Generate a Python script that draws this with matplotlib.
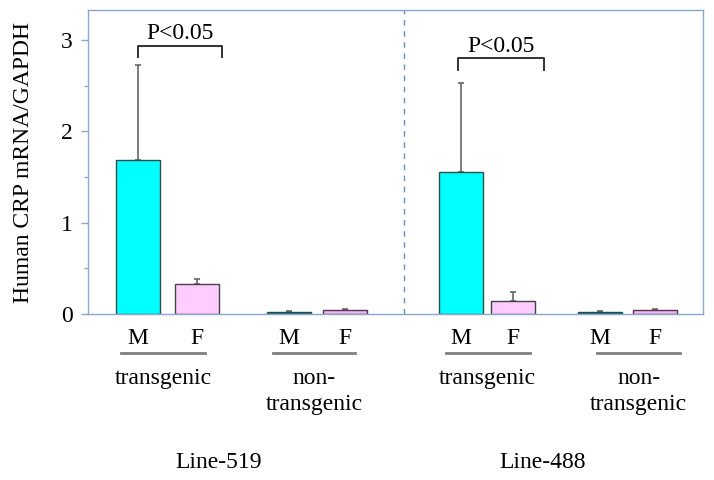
import matplotlib.pyplot as plt
import numpy as np

plt.rcParams['font.family'] = ['Liberation Serif', 'DejaVu Serif']

# bar values
groups = ["Line-519", "Line-488"]
sexes = ["M", "F", "M", "F", "M", "F", "M", "F"]
status = ["transgenic", "non-\ntransgenic", "transgenic", "non-\ntransgenic"]
means = [1.69, 0.33, 0.02, 0.04, 1.56, 0.14, 0.02, 0.04]
errs = [1.04, 0.05, 0.01, 0.02, 0.97, 0.10, 0.01, 0.01]
pvals = ["P<0.05", "P<0.05"]

# layout
pos = np.array([0.88, 1.91, 3.53, 4.51, 6.54, 7.46, 8.98, 9.95])
width = 0.77
faces = ["#00FFFF", "#FFCCFF", "#2A7373", "#F0B8F0"] * 2
edges = ["#2F4F4F", "#444444", "#1F4F4F", "#553355"] * 2
spine_col = "#8EA6CC"
fs = 17

fig = plt.figure(figsize=(7.14, 4.8), dpi=100)
ax = fig.add_axes([0.1232, 0.3458, 0.8614, 0.6332])

ax.bar(pos, means, width=width, color=faces, edgecolor=edges, linewidth=1.0, zorder=2)
ax.errorbar(pos, means, yerr=[np.zeros(len(errs)), errs], fmt="none",
            ecolor="#666666", elinewidth=1.2, capsize=2.5, capthick=1.2, zorder=1)

ax.set_xlim(0, 10.79)
ax.set_ylim(0, 3.33)
ax.set_yticks([0, 1, 2, 3])
ax.set_yticks([0.5, 1.5, 2.5], minor=True)
ax.set_xticks([])
ax.tick_params(axis="y", labelsize=fs, color=spine_col, length=5, width=1, pad=6)
ax.tick_params(axis="y", which="minor", color=spine_col, length=3, width=1)
for s in ax.spines.values():
    s.set_color(spine_col)
    s.set_linewidth(1.0)
ax.set_ylabel("Human CRP mRNA/GAPDH", fontsize=fs, labelpad=19)

# divider between lines
ax.axvline(5.54, color="#6E8CBE", linestyle=(0, (4, 4)), linewidth=1.0)

# significance brackets
brk = [(0.88, 2.35, 2.94, 2.82), (6.49, 8.0, 2.80, 2.67)]
for (x1, x2, top, bot), p in zip(brk, pvals):
    ax.plot([x1, x1, x2, x2], [bot, top, top, bot], color="#333333", linewidth=1.4)
    ax.text((x1 + x2) / 2, top + 0.02, p, ha="center", va="bottom", fontsize=fs)

# labels under the axis
for x, s in zip(pos, sexes):
    ax.text(x, -0.27, s, ha="center", va="center", fontsize=fs, clip_on=False)

under = [(0.58, 2.05), (3.25, 4.68), (6.28, 7.75), (8.93, 10.39)]
for (a, b), st in zip(under, status):
    ax.plot([a, b], [-0.427, -0.427], color="#808080", linewidth=2, clip_on=False)
    ax.text((a + b) / 2, -0.59, st, ha="center", va="top", fontsize=fs,
            linespacing=1.3, clip_on=False)

for x, g in zip([2.30, 7.98], groups):
    ax.text(x, -1.63, g, ha="center", va="center", fontsize=fs, clip_on=False)

fig.savefig("out.png", dpi=100)
